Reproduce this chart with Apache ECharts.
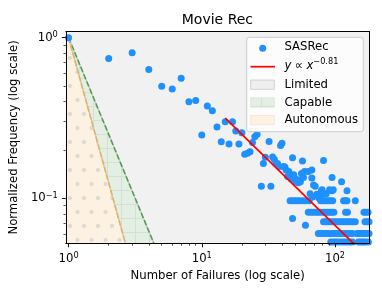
<!DOCTYPE html>
<html><head><meta charset="utf-8">
<script src="https://cdn.jsdelivr.net/npm/echarts@6/dist/echarts.min.js"></script>
<style>html,body{margin:0;padding:0;background:#fff}#c{width:382px;height:297px}</style>
</head><body><div id="c"></div><script>
// ---------------- data ----------------
const chartTitle = 'Movie Rec';
const xName = 'Number of Failures (log scale)';
const yName = 'Normalized Frequency (log scale)';
const seriesName = 'SASRec';
const regionNames = ['Limited', 'Capable', 'Autonomous'];

const xMajorTicks = [1, 10, 100];
const xMinorTicks = [2, 3, 4, 5, 6, 7, 8, 9, 20, 30, 40, 50, 60, 70, 80, 90];
const yMajorTicks = [0.1, 1];
const yMinorTicks = [0.06, 0.07, 0.08, 0.09, 0.2, 0.3, 0.4, 0.5, 0.6, 0.7, 0.8, 0.9];
const xRange = [0.953, 181.5];
const yRange = [0.0525, 1.093];

// SASRec failure-count frequencies
const failures = [
  1, 2, 3, 4, 5, 6, 7, 8, 9, 10, 11, 12, 13, 14, 15, 16, 17, 18, 19, 20,
  21, 22, 23, 24, 25, 26, 28, 29, 30, 32, 33, 34, 35, 36, 37, 38, 39, 40,
  41, 42, 43, 44, 45, 46, 47, 48, 49, 50, 51, 52, 53, 54, 55, 56, 57, 58, 59,
  63, 65, 67, 67, 68, 69, 71, 73, 76, 79, 80, 81, 82, 86, 91, 95, 95, 97, 112, 123,
  46, 48, 50, 52, 54, 57, 60, 64, 78, 80, 83, 86, 89, 92, 96, 116, 120, 123, 142,
  63, 66, 69, 72, 75, 78, 82, 85, 88, 92, 95, 98, 120, 124, 165, 170, 177,
  48, 60,
  82, 85, 88, 91, 95, 99, 103, 107, 111, 115, 120, 125, 130, 136, 142, 168, 175, 180,
  75, 78, 81, 84, 87, 90, 94, 98, 102, 106, 110, 115, 120, 125, 130, 135, 146, 150, 155, 160, 165, 170, 175, 180,
  93, 97, 101, 105, 110, 115, 120, 125, 130, 135, 150, 155, 160, 165, 170, 178
];
const frequency = [
  1.0, 0.742, 0.806, 0.634, 0.498, 0.48, 0.559, 0.40, 0.406, 0.248, 0.376, 0.351, 0.278, 0.225, 0.30, 0.218, 0.30, 0.263, 0.218, 0.256,
  0.188, 0.191, 0.195, 0.223, 0.242, 0.251, 0.119, 0.165, 0.180, 0.226, 0.119, 0.181, 0.175, 0.165, 0.165, 0.158, 0.213, 0.22,
  0.158, 0.157, 0.150, 0.137, 0.147, 0.14, 0.132, 0.179, 0.14, 0.133, 0.127, 0.13, 0.125, 0.13, 0.127, 0.143, 0.171, 0.135, 0.147,
  0.147, 0.107, 0.150, 0.134, 0.102, 0.121, 0.119, 0.106, 0.10, 0.1115, 0.113, 0.106, 0.172, 0.107, 0.113, 0.135, 0.1115, 0.113, 0.127, 0.1115,
  0.0966, 0.0966, 0.0966, 0.0966, 0.0966, 0.0966, 0.0966, 0.0966, 0.0966, 0.0966, 0.0966, 0.0966, 0.0966, 0.0966, 0.0966, 0.0966, 0.0966, 0.0966, 0.0966,
  0.0818, 0.0818, 0.0818, 0.0818, 0.0818, 0.0818, 0.0818, 0.0818, 0.0818, 0.0818, 0.0818, 0.0818, 0.0818, 0.0818, 0.0818, 0.0818, 0.0818,
  0.075, 0.068,
  0.0715, 0.0715, 0.0715, 0.0715, 0.0715, 0.0715, 0.0715, 0.0715, 0.0715, 0.0715, 0.0715, 0.0715, 0.0715, 0.0715, 0.0715, 0.0715, 0.0715, 0.0715,
  0.0605, 0.0605, 0.0605, 0.0605, 0.0605, 0.0605, 0.0605, 0.0605, 0.0605, 0.0605, 0.0605, 0.0605, 0.0605, 0.0605, 0.0605, 0.0605, 0.0605, 0.0605, 0.0605, 0.0605, 0.0605, 0.0605, 0.0605, 0.0605,
  0.0535, 0.0535, 0.0535, 0.0535, 0.0535, 0.0535, 0.0535, 0.0535, 0.0535, 0.0535, 0.0535, 0.0535, 0.0535, 0.0535, 0.0535, 0.0535
];

// power-law fit line y ∝ x^-0.81 (end points)
const fitX = [15, 150];
const fitY = [0.316, 0.0489];
// region boundaries (end points)
const capableEdgeX = [1, 4.6];
const capableEdgeY = [1, 0.0473];
const autonomousEdgeX = [1, 2.8];
const autonomousEdgeY = [1, 0.0455];
const autonomousAreaX = [0.953, 2.8];
const autonomousAreaY = [1.155, 0.0455];

// ---------------- styling ----------------
const FONT = 'DejaVu Sans';
const FS = 11.67;
const BLUE = '#1E90FF';
const PLOT_BG = '#f1f1f1';

function makeTile(w, h, bg, draw) {
  const c = document.createElement('canvas');
  c.width = w; c.height = h;
  const g = c.getContext('2d');
  g.fillStyle = bg; g.fillRect(0, 0, w, h);
  draw(g);
  return c;
}
const dotTile = makeTile(14, 28, '#fdf2e1', g => {
  g.fillStyle = '#e0ddd8'; g.strokeStyle = '#d2d0cc'; g.lineWidth = 0.6;
  [[0, 2], [14, 2], [7.5, 16]].forEach(p => {
    g.beginPath(); g.arc(p[0], p[1], 1.7, 0, Math.PI * 2); g.fill(); g.stroke();
  });
});
const gridTile = makeTile(14, 14, '#e3efe2', g => {
  g.strokeStyle = '#d4e0d3'; g.lineWidth = 1;
  g.beginPath(); g.moveTo(9.5, 0); g.lineTo(9.5, 14); g.moveTo(0, 8.5); g.lineTo(14, 8.5); g.stroke();
});
const dotPattern = { image: dotTile, repeat: 'repeat' };
const gridPattern = { image: gridTile, repeat: 'repeat' };

function supLabel(v) {
  const e = Math.round(Math.log10(v));
  return '{b|10}{s|' + (e < 0 ? '\u2212' + (-e) : e) + '}';
}
const labelRich = {
  b: { fontFamily: FONT, fontSize: FS, color: '#000', lineHeight: 14 },
  s: { fontFamily: FONT, fontSize: 8.2, color: '#000', lineHeight: 10, padding: [0, 0, 5, 0] }
};

function pairs(xs, ys) { return xs.map((x, i) => [x, ys[i]]); }

const baseAxis = {
  type: 'log', logBase: 10, z: 10,
  splitLine: { show: false }, minorTick: { show: false }, minorSplitLine: { show: false }
};

const chart = echarts.init(document.getElementById('c'), null, { renderer: 'canvas' });

const legendX = 246.7, legendY = 37.3;
const graphics = [
  { type: 'text', x: 217.4, y: 20.8, z: 100,
    style: { text: chartTitle, fontFamily: FONT, fontSize: 14, fill: '#000', align: 'center', verticalAlign: 'middle' } },
  { type: 'rect', z: 100, shape: { x: legendX, y: legendY, width: 116.6, height: 94.4, r: 2.5 },
    style: { fill: 'rgba(255,255,255,0.8)', stroke: '#cccccc', lineWidth: 1 } },
  { type: 'circle', z: 101, shape: { cx: 262.7, cy: 48.2, r: 3.5 }, style: { fill: BLUE } },
  { type: 'text', z: 101, x: 284.5, y: 46.9,
    style: { text: seriesName, fontFamily: FONT, fontSize: FS, fill: '#000', verticalAlign: 'middle' } },
  { type: 'line', z: 101, shape: { x1: 250.5, y1: 66.7, x2: 275, y2: 66.7 }, style: { stroke: 'red', lineWidth: 1.7 } },
  { type: 'text', z: 101, x: 284.5, y: 65.5,
    style: {
      text: '{i|y} {n|\u221D} {i|x}{s|\u22120.81}', verticalAlign: 'middle',
      rich: {
        i: { fontFamily: FONT, fontStyle: 'italic', fontSize: FS, fill: '#000', lineHeight: 14 },
        n: { fontFamily: FONT, fontSize: FS, fill: '#000', lineHeight: 14 },
        s: { fontFamily: FONT, fontSize: 8.2, fill: '#000', lineHeight: 10, padding: [0, 0, 8, 0] }
      }
    } },
  { type: 'rect', z: 101, shape: { x: 250.7, y: 80.1, width: 23.6, height: 9.2 }, style: { fill: '#efefef', stroke: '#d0d0d0', lineWidth: 1 } },
  { type: 'text', z: 101, x: 284.5, y: 84.8,
    style: { text: regionNames[0], fontFamily: FONT, fontSize: FS, fill: '#000', verticalAlign: 'middle' } },
  { type: 'rect', z: 101, shape: { x: 250.7, y: 97.9, width: 23.6, height: 9.2 }, style: { fill: gridPattern, stroke: '#dde8dc', lineWidth: 1 } },
  { type: 'text', z: 101, x: 284.5, y: 102.5,
    style: { text: regionNames[1], fontFamily: FONT, fontSize: FS, fill: '#000', verticalAlign: 'middle' } },
  { type: 'rect', z: 101, shape: { x: 250.7, y: 115.5, width: 23.6, height: 9.2 }, style: { fill: '#fdf2e1', stroke: '#f3e8d6', lineWidth: 1 } },
  { type: 'text', z: 101, x: 284.5, y: 120.3,
    style: { text: regionNames[2], fontFamily: FONT, fontSize: FS, fill: '#000', verticalAlign: 'middle' } }
];

chart.setOption({
  animation: false,
  backgroundColor: '#fff',
  textStyle: { fontFamily: FONT },
  grid: { left: 65.5, right: 12.5, top: 31.5, bottom: 53.7, show: true, backgroundColor: PLOT_BG, borderWidth: 0, containLabel: false },
  xAxis: [
    Object.assign({}, baseAxis, {
      position: 'bottom', min: xRange[0], max: xRange[1],
      name: xName, nameLocation: 'middle', nameGap: 31.5,
      nameTextStyle: { fontFamily: FONT, fontSize: FS, color: '#000', verticalAlign: 'middle' },
      axisLine: { show: true, onZero: false, lineStyle: { color: '#000', width: 1 } },
      axisTick: { show: true, inside: false, length: 4, lineStyle: { color: '#000', width: 0.9 }, customValues: xMajorTicks },
      axisLabel: { show: true, margin: 15.2, verticalAlign: 'middle', customValues: xMajorTicks, formatter: supLabel, rich: labelRich }
    }),
    Object.assign({}, baseAxis, {
      position: 'bottom', min: xRange[0], max: xRange[1],
      axisLine: { show: false, onZero: false },
      axisTick: { show: true, inside: false, length: 2.3, lineStyle: { color: '#000', width: 0.7 }, customValues: xMinorTicks },
      axisLabel: { show: false }
    }),
    Object.assign({}, baseAxis, {
      position: 'top', min: xRange[0], max: xRange[1],
      axisLine: { show: true, onZero: false, lineStyle: { color: '#000', width: 1 } },
      axisTick: { show: false }, axisLabel: { show: false }
    })
  ],
  yAxis: [
    Object.assign({}, baseAxis, {
      position: 'left', min: yRange[0], max: yRange[1],
      name: yName, nameLocation: 'middle', nameGap: 47.3,
      nameTextStyle: { fontFamily: FONT, fontSize: FS, color: '#000', verticalAlign: 'middle' },
      axisLine: { show: true, onZero: false, lineStyle: { color: '#000', width: 1 } },
      axisTick: { show: true, inside: false, length: 4, lineStyle: { color: '#000', width: 0.9 }, customValues: yMajorTicks },
      axisLabel: { show: true, margin: 8, customValues: yMajorTicks, formatter: supLabel, rich: labelRich }
    }),
    Object.assign({}, baseAxis, {
      position: 'left', min: yRange[0], max: yRange[1],
      axisLine: { show: false, onZero: false },
      axisTick: { show: true, inside: false, length: 2.3, lineStyle: { color: '#000', width: 0.7 }, customValues: yMinorTicks },
      axisLabel: { show: false }
    }),
    Object.assign({}, baseAxis, {
      position: 'right', min: yRange[0], max: yRange[1],
      axisLine: { show: true, onZero: false, lineStyle: { color: '#000', width: 1 } },
      axisTick: { show: false }, axisLabel: { show: false }
    })
  ],
  series: [
    { name: regionNames[1], type: 'line', xAxisIndex: 0, yAxisIndex: 0, z: 1, silent: true, symbol: 'none',
      data: pairs(capableEdgeX, capableEdgeY),
      lineStyle: { color: '#c9c9c9', width: 1.5 },
      areaStyle: { color: gridPattern, opacity: 1, origin: 'start' } },
    { name: regionNames[2], type: 'line', xAxisIndex: 0, yAxisIndex: 0, z: 1, silent: true, symbol: 'none',
      data: pairs(autonomousAreaX, autonomousAreaY),
      lineStyle: { width: 0 },
      areaStyle: { color: dotPattern, opacity: 1, origin: 'start' } },
    { name: regionNames[2] + ' border', type: 'line', xAxisIndex: 0, yAxisIndex: 0, z: 1, silent: true, symbol: 'none',
      data: pairs(autonomousEdgeX, autonomousEdgeY),
      lineStyle: { color: '#c9c9c9', width: 1.5 } },
    { name: regionNames[1] + ' edge', type: 'line', xAxisIndex: 0, yAxisIndex: 0, z: 2, silent: true, symbol: 'none',
      data: pairs(capableEdgeX, capableEdgeY),
      lineStyle: { color: '#4f9e4f', width: 1.5, type: [5.5, 2.4] } },
    { name: regionNames[2] + ' edge', type: 'line', xAxisIndex: 0, yAxisIndex: 0, z: 2, silent: true, symbol: 'none',
      data: pairs(autonomousEdgeX, autonomousEdgeY),
      lineStyle: { color: '#efb050', width: 1.5, type: [5.5, 2.4] } },
    { name: seriesName, type: 'scatter', xAxisIndex: 0, yAxisIndex: 0, z: 3,
      symbol: 'circle', symbolSize: 7, itemStyle: { color: BLUE, opacity: 1 },
      data: pairs(failures, frequency) },
    { name: 'fit', type: 'line', xAxisIndex: 0, yAxisIndex: 0, z: 4, symbol: 'none',
      data: pairs(fitX, fitY), lineStyle: { color: '#ff0000', width: 1.7 } }
  ],
  graphics: undefined,
  graphic: graphics
});
</script></body></html>
